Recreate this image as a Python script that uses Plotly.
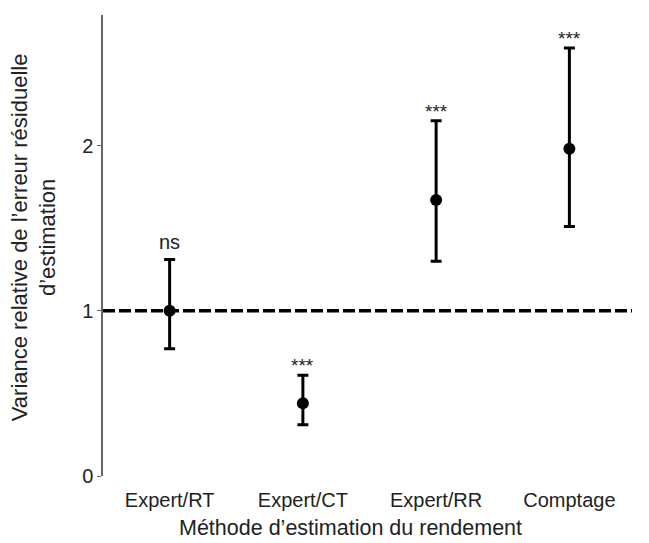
import plotly.graph_objects as go

categories = ["Expert/RT", "Expert/CT", "Expert/RR", "Comptage"]
estimate = [1.00, 0.44, 1.67, 1.98]
lower = [0.77, 0.31, 1.30, 1.51]
upper = [1.31, 0.61, 2.15, 2.59]
signif = ["ns", "***", "***", "***"]
reference_value = 1.0

FONT = "Liberation Sans, Arial, Helvetica, sans-serif"
TXT = "#222"

err_plus = [u - e for u, e in zip(upper, estimate)]
err_minus = [e - l for e, l in zip(estimate, lower)]

fig = go.Figure()
fig.add_trace(go.Scatter(
    x=list(range(len(categories))), y=estimate, mode="markers",
    marker=dict(color="black", size=12),
    error_y=dict(type="data", symmetric=False, array=err_plus, arrayminus=err_minus,
                 color="black", thickness=3, width=5.5),
    showlegend=False, hoverinfo="skip",
))

fig.add_shape(type="line", xref="x", yref="y", x0=-0.5, x1=3.47,
              y0=reference_value, y1=reference_value,
              line=dict(color="black", width=3.5, dash="12px,4px"), layer="below")

for i, (s, u) in enumerate(zip(signif, upper)):
    fig.add_annotation(x=i, y=u, xref="x", yref="y", text=s, showarrow=False,
                       yanchor="bottom", yshift=5 if s == "ns" else -3,
                       font=dict(family=FONT, size=20 if s == "ns" else 19, color=TXT))

# axis titles
fig.add_annotation(x=1.36, xref="x", y=0, yref="paper", yanchor="middle", yshift=-52,
                   text="Méthode d’estimation du rendement", showarrow=False,
                   font=dict(family=FONT, size=21.5, color=TXT))
fig.add_annotation(x=0, xref="paper", xshift=-69, y=0.518, yref="paper",
                   xanchor="center", yanchor="middle", textangle=-90,
                   text="Variance relative de l’erreur résiduelle<br>d’estimation",
                   showarrow=False, font=dict(family=FONT, size=22, color=TXT))

fig.update_layout(
    width=641, height=535,
    margin=dict(l=95, r=13, t=7, b=67),
    plot_bgcolor="white", paper_bgcolor="white",
    font=dict(family=FONT, color=TXT),
    xaxis=dict(range=[-0.5, 3.5], tickmode="array", tickvals=list(range(len(categories))),
               ticktext=categories, showline=False, showgrid=False, zeroline=False,
               ticks="outside", ticklen=6, tickcolor="rgba(0,0,0,0)",
               tickfont=dict(size=20, color=TXT)),
    yaxis=dict(range=[0, 2.79], tickvals=[0, 1, 2], ticktext=["0", "1", "2"],
               showline=True, linecolor="#666", linewidth=1.5, showgrid=False, zeroline=False,
               ticks="outside", ticklen=4, tickcolor="#666", tickwidth=1,
               tickfont=dict(size=20, color=TXT)),
)

fig.write_html("out.html")
